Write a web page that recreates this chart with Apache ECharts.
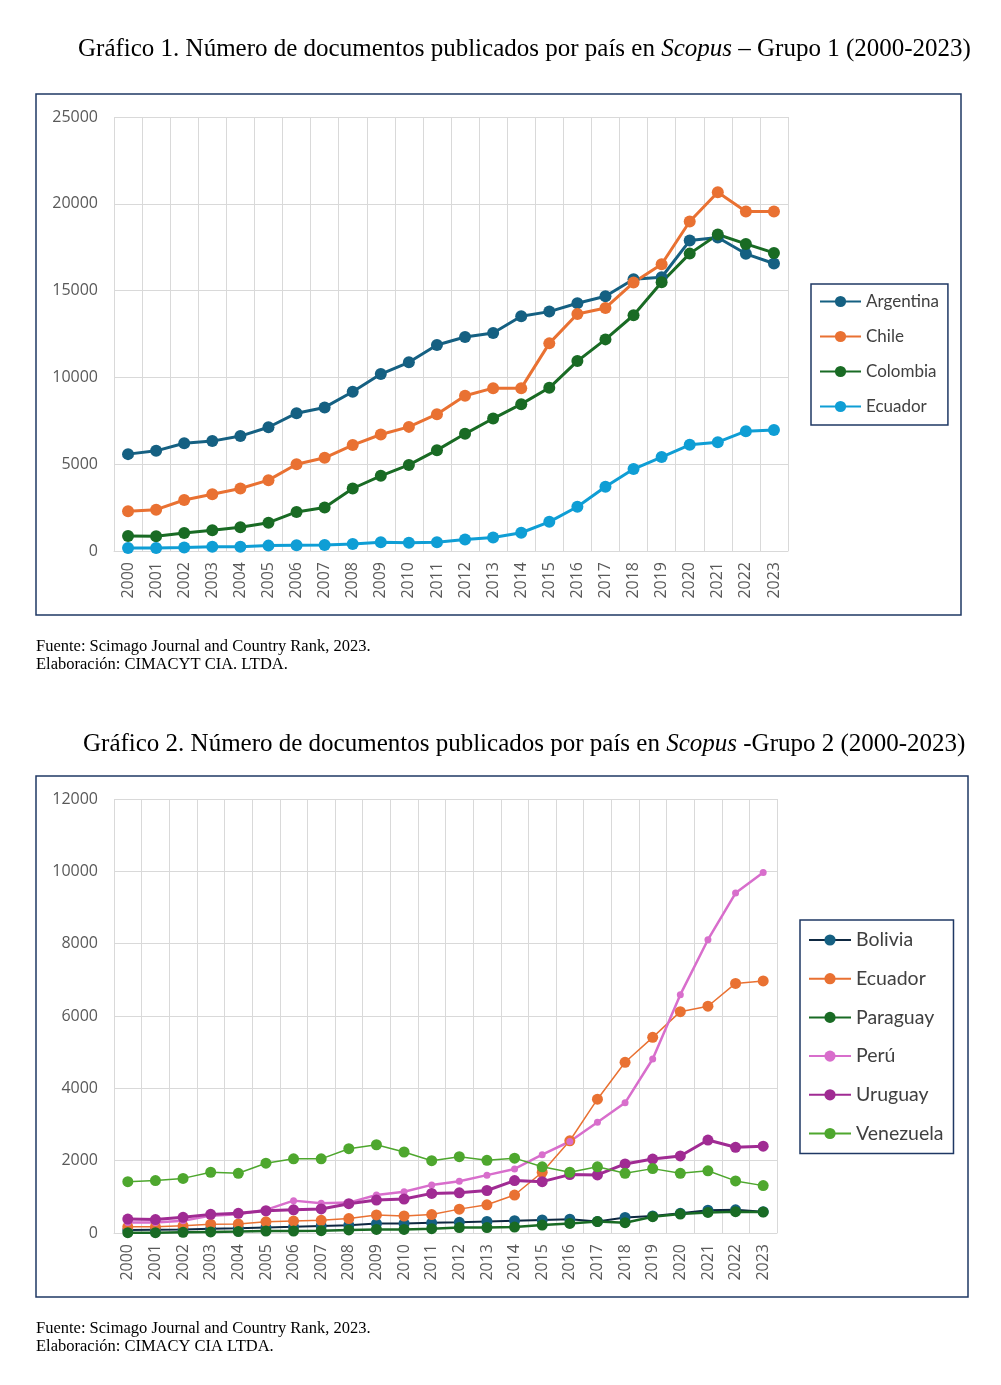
<!DOCTYPE html>
<html><head><meta charset="utf-8">
<script src="https://cdn.jsdelivr.net/npm/echarts@6.0.0/dist/echarts.min.js"></script>
<style>html,body{margin:0;padding:0;background:#fff;}#c{width:1001px;height:1385px;}</style>
</head><body><div id="c"></div>
<script>
const years = ['2000','2001','2002','2003','2004','2005','2006','2007','2008','2009','2010','2011','2012','2013','2014','2015','2016','2017','2018','2019','2020','2021','2022','2023'];
// Grupo 1
const argentina = [5580, 5770, 6210, 6330, 6620, 7130, 7940, 8270, 9170, 10190, 10870, 11870, 12330, 12560, 13520, 13790, 14270, 14670, 15650, 15770, 17880, 18060, 17120, 16560];
const chile = [2290, 2380, 2940, 3270, 3600, 4080, 5000, 5370, 6100, 6710, 7150, 7880, 8940, 9380, 9380, 11960, 13650, 14000, 15460, 16520, 18980, 20670, 19560, 19560];
const colombia = [870, 850, 1040, 1190, 1370, 1630, 2250, 2500, 3600, 4330, 4960, 5810, 6750, 7630, 8460, 9400, 10940, 12190, 13580, 15480, 17130, 18230, 17690, 17170];
const ecuador = [170, 170, 200, 245, 250, 310, 330, 350, 400, 500, 470, 510, 660, 780, 1050, 1680, 2550, 3700, 4720, 5410, 6120, 6270, 6900, 6970];
// Grupo 2
const bolivia = [80, 90, 100, 115, 130, 150, 170, 195, 215, 260, 265, 280, 295, 320, 340, 360, 380, 320, 430, 470, 545, 630, 640, 590];
const paraguay = [10, 10, 20, 30, 40, 55, 55, 65, 85, 100, 100, 120, 150, 150, 165, 220, 265, 315, 285, 450, 525, 570, 590, 580];
const peru = [290, 290, 340, 480, 520, 640, 895, 820, 840, 1050, 1140, 1330, 1430, 1600, 1770, 2165, 2530, 3060, 3600, 4810, 6590, 8110, 9400, 9970];
const uruguay = [385, 370, 435, 515, 545, 615, 640, 665, 810, 910, 940, 1095, 1110, 1175, 1450, 1420, 1615, 1605, 1910, 2045, 2130, 2570, 2370, 2400];
const venezuela = [1420, 1450, 1510, 1680, 1650, 1930, 2050, 2050, 2330, 2440, 2240, 2000, 2110, 2010, 2070, 1830, 1680, 1830, 1650, 1780, 1650, 1720, 1440, 1310];

const title1 = ['Gráfico 1. Número de documentos publicados por país en ', 'Scopus', ' – Grupo 1 (2000-2023)'];
const title2 = ['Gráfico 2. Número de documentos publicados por país en ', 'Scopus', ' -Grupo 2 (2000-2023)'];
const note1 = ['Fuente: Scimago Journal and Country Rank, 2023.', 'Elaboración: CIMACYT CIA. LTDA.'];
const note2 = ['Fuente: Scimago Journal and Country Rank, 2023.', 'Elaboración: CIMACY CIA LTDA.'];

const AX = "'Open Sans', sans-serif";
const LG = "Lato, 'Open Sans', sans-serif";
const SERIF = "'Liberation Serif', 'Times New Roman', serif";
const gridColor = '#d9d9d9';

function xAx(gi){
  return {type:'category', gridIndex:gi, data:years, boundaryGap:true,
    axisLine:{show:true, lineStyle:{color:gridColor, width:1}}, axisTick:{show:false},
    splitLine:{show:true, lineStyle:{color:gridColor, width:1}},
    axisLabel:{rotate:90, color:'#595959', fontSize:16, fontFamily:AX, margin:11, interval:0}};
}
function yAx(gi, max, interval){
  return {type:'value', gridIndex:gi, min:0, max:max, interval:interval,
    axisLine:{show:false}, axisTick:{show:false},
    splitLine:{show:true, lineStyle:{color:gridColor, width:1}},
    axisLabel:{color:'#595959', fontSize:16, fontFamily:AX, margin:16, formatter:v=>String(v)}};
}
function ser(name, data, gi, color, lw, ms, lineColor){
  return {name:name, type:'line', data:data, xAxisIndex:gi, yAxisIndex:gi,
    symbol:'circle', symbolSize:ms, showSymbol:true,
    itemStyle:{color:color, borderWidth:0},
    lineStyle:{color:lineColor||color, width:lw}, emphasis:{disabled:true}};
}
function titleText(parts, x, y){
  return {type:'text', x:x, y:y, style:{
    text:'{a|'+parts[0]+'}{b|'+parts[1]+'}{a|'+parts[2]+'}',
    rich:{a:{fontFamily:SERIF, fontSize:25, fill:'#000'}, b:{fontFamily:SERIF, fontSize:25, fontStyle:'italic', fill:'#000'}},
    verticalAlign:'middle', align:'left'}};
}
function noteText(lines, x, y){
  return {type:'text', x:x, y:y, style:{text:lines.join('\n'), fontFamily:SERIF, fontSize:16.5, lineHeight:18.5, fill:'#000', verticalAlign:'top'}};
}

const chart = echarts.init(document.getElementById('c'), null, {renderer:'canvas'});
chart.setOption({
  animation:false,
  backgroundColor:'#fff',
  grid:[
    {left:114, right:213, top:117, bottom:834, containLabel:false},
    {left:114, right:224, top:799, bottom:152, containLabel:false}
  ],
  xAxis:[xAx(0), xAx(1)],
  yAxis:[yAx(0, 25000, 5000), yAx(1, 12000, 2000)],
  legend:[
    {seriesIndex:[0,1,2,3], data:['Argentina','Chile','Colombia','Ecuador'].map(n=>({name:n})),
     orient:'vertical', left:811, top:284, padding:[9,9,10,8], itemGap:18, itemWidth:41, itemHeight:14,
     borderColor:'#1F3864', borderWidth:1.5, backgroundColor:'#fff',
     textStyle:{fontFamily:LG, fontSize:17, color:'#404040'}, selectedMode:false},
    {data:['Bolivia','Ecuador ','Paraguay','Perú','Uruguay','Venezuela'].map(n=>({name:n})),
     orient:'vertical', left:800, top:920, padding:[10,10,10,8], itemGap:18.7, itemWidth:42, itemHeight:14,
     borderColor:'#1F3864', borderWidth:1.5, backgroundColor:'#fff',
     textStyle:{fontFamily:LG, fontSize:19.5, color:'#404040'}, selectedMode:false}
  ],
  series:[
    ser('Argentina', argentina, 0, '#156082', 3, 12),
    ser('Chile', chile, 0, '#E97132', 3, 12),
    ser('Colombia', colombia, 0, '#196B24', 3, 12),
    ser('Ecuador', ecuador, 0, '#0F9ED5', 3, 12),
    ser('Bolivia', bolivia, 1, '#156082', 2, 11, '#0E2841'),
    ser('Ecuador ', ecuador, 1, '#E97132', 1.5, 11),
    ser('Paraguay', paraguay, 1, '#196B24', 2.5, 11),
    ser('Perú', peru, 1, '#D86ECC', 2.5, 7),
    ser('Uruguay', uruguay, 1, '#A02B93', 3, 11),
    ser('Venezuela', venezuela, 1, '#4EA72E', 1.5, 11)
  ],
  graphic:[
    {type:'rect', shape:{x:36, y:94, width:925, height:521}, style:{fill:null, stroke:'#1F3864', lineWidth:1.5}, z:-1},
    {type:'rect', shape:{x:36, y:776, width:932, height:521}, style:{fill:null, stroke:'#1F3864', lineWidth:1.5}, z:-1},
    titleText(title1, 78, 49),
    titleText(title2, 83, 744),
    noteText(note1, 36, 637),
    noteText(note2, 36, 1319)
  ]
});
</script></body></html>
